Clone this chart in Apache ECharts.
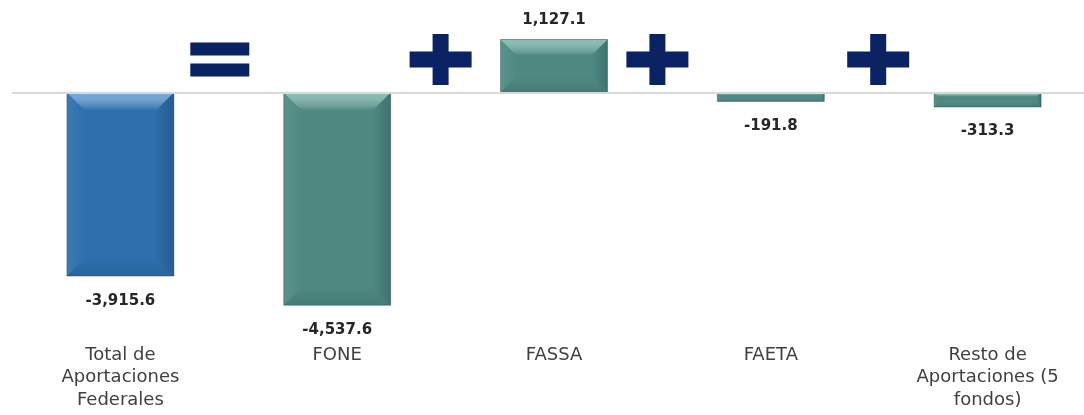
<!DOCTYPE html>
<html>
<head>
<meta charset="utf-8">
<script src="https://cdn.jsdelivr.net/npm/echarts@6/dist/echarts.min.js"></script>
<style>
html,body{margin:0;padding:0;background:#fff;}
#chart{width:1084px;height:415px;}
</style>
</head>
<body>
<div id="chart"></div>
<script>
// ---- data ----
var categories = ['Total de\nAportaciones\nFederales', 'FONE', 'FASSA', 'FAETA', 'Resto de\nAportaciones (5\nfondos)'];
var values = [-3915.6, -4537.6, 1127.1, -191.8, -313.3];
var operators = ['=', '+', '+', '+'];

// ---- styles ----
var BLUE = '#2E70AD';
var TEAL = '#4F8A82';
var NAVY = '#0B2263';
var BAR_W = 107;
var OP_SHIFT = [-9, -5, -5, -1];

function fmt(v) {
  var s = Math.abs(v).toFixed(1).split('.');
  s[0] = s[0].replace(/\B(?=(\d{3})+(?!\d))/g, ',');
  return (v < 0 ? '-' : '') + s[0] + '.' + s[1];
}

var chart = echarts.init(document.getElementById('chart'), null, {renderer: 'canvas'});

function bevelItem(params, api) {
  var i = api.value(0);
  var v = api.value(1);
  var p0 = api.coord([i, 0]);
  var p1 = api.coord([i, v]);
  var x0 = p0[0] - BAR_W / 2, x1 = p0[0] + BAR_W / 2;
  var y0 = Math.min(p0[1], p1[1]), y1 = Math.max(p0[1], p1[1]);
  var h = y1 - y0;
  var b = Math.min(18, h * 0.3, BAR_W * 0.3);
  var light = i === 0 ? 'rgba(130,185,235,0.8)' : 'rgba(150,205,195,0.8)';
  var children = [
    { // top bevel
      type: 'polygon',
      shape: {points: [[x0, y0], [x1, y0], [x1 - b, y0 + b], [x0 + b, y0 + b]]},
      style: {fill: new echarts.graphic.LinearGradient(0, 0, 0, 1, [
        {offset: 0, color: light}, {offset: 1, color: 'rgba(255,255,255,0.0)'}])}
    },
    { // left bevel
      type: 'polygon',
      shape: {points: [[x0, y0], [x0 + b, y0 + b], [x0 + b, y1 - b], [x0, y1]]},
      style: {fill: new echarts.graphic.LinearGradient(0, 0, 1, 0, [
        {offset: 0, color: 'rgba(255,255,255,0.07)'}, {offset: 1, color: 'rgba(255,255,255,0.0)'}])}
    },
    { // right bevel
      type: 'polygon',
      shape: {points: [[x1, y0], [x1, y1], [x1 - b, y1 - b], [x1 - b, y0 + b]]},
      style: {fill: new echarts.graphic.LinearGradient(1, 0, 0, 0, [
        {offset: 0, color: 'rgba(0,20,40,0.20)'}, {offset: 1, color: 'rgba(0,20,40,0.02)'}])}
    },
    { // bottom bevel
      type: 'polygon',
      shape: {points: [[x0, y1], [x1, y1], [x1 - b, y1 - b], [x0 + b, y1 - b]]},
      style: {fill: new echarts.graphic.LinearGradient(0, 1, 0, 0, [
        {offset: 0, color: 'rgba(0,20,40,0.12)'}, {offset: 1, color: 'rgba(0,20,40,0.0)'}])}
    },
    {
      type: 'rect',
      shape: {x: x0, y: y0, width: BAR_W, height: h},
      style: {fill: 'none', stroke: 'rgba(0,30,50,0.3)', lineWidth: 1}
    }
  ];
  return {type: 'group', children: children};
}

function opItem(params, api) {
  var i = api.value(0);
  var p = api.coord([i, 0]);
  var band = api.size([1, 0])[0];
  var cx = p[0] + band / 2 + OP_SHIFT[params.dataIndex];
  var cy = p[1] - 33;
  var op = operators[params.dataIndex];
  var style = {fill: NAVY};
  if (op === '=') {
    return {type: 'group', children: [
      {type: 'rect', shape: {x: cx - 29.5, y: cy - 17, width: 59, height: 13}, style: style},
      {type: 'rect', shape: {x: cx - 29.5, y: cy + 4, width: 59, height: 13}, style: style}
    ]};
  }
  return {type: 'group', children: [
    {type: 'rect', shape: {x: cx - 31, y: cy - 8, width: 62, height: 16}, style: style},
    {type: 'rect', shape: {x: cx - 8, y: cy - 25.5, width: 16, height: 51}, style: style}
  ]};
}

var option = {
  animation: false,
  backgroundColor: '#ffffff',
  grid: {left: 12, top: 22, width: 1084, height: 305, containLabel: false, outerBoundsMode: 'none'},
  xAxis: {
    type: 'category',
    data: categories,
    axisLine: {show: false},
    axisTick: {show: false},
    splitLine: {show: false},
    axisLabel: {
      interval: 0,
      margin: 17,
      fontFamily: 'DejaVu Sans',
      fontSize: 18,
      lineHeight: 22.5,
      color: '#404040',
      align: 'center'
    }
  },
  yAxis: {
    type: 'value',
    min: -5000,
    max: 1500,
    show: false
  },
  series: [
    {
      type: 'bar',
      data: values.map(function (v) {
        return {value: v, label: {distance: v >= 0 ? 12 : 17}};
      }),
      barWidth: BAR_W,
      itemStyle: {
        color: function (p) { return p.dataIndex === 0 ? BLUE : TEAL; }
      },
      label: {
        show: true,
        position: 'outside',
        fontFamily: 'DejaVu Sans',
        fontWeight: 'bold',
        fontSize: 15,
        color: '#262626',
        formatter: function (p) { return fmt(p.value); }
      },
      markLine: {
        silent: true,
        symbol: 'none',
        label: {show: false},
        lineStyle: {color: '#d9d9d9', width: 2, type: 'solid'},
        data: [{yAxis: 0}]
      },
      z: 2
    },
    {
      type: 'custom',
      silent: true,
      renderItem: bevelItem,
      data: values.map(function (v, i) { return [i, v]; }),
      z: 3
    },
    {
      type: 'custom',
      silent: true,
      renderItem: opItem,
      data: operators.map(function (o, i) { return [i, 0]; }),
      z: 4
    }
  ]
};
chart.setOption(option);
</script>
</body>
</html>
